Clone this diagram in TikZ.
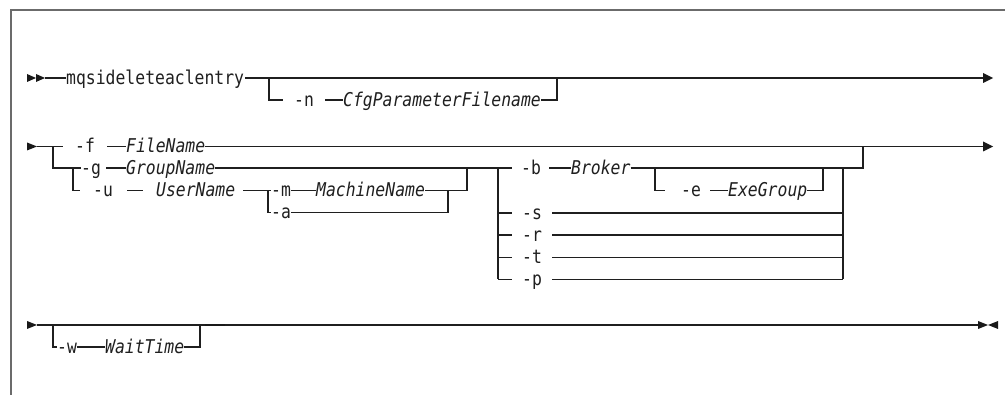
\documentclass[tikz,border=0pt]{standalone}
\usepackage{fontspec}
\newfontfamily\diafont[FakeStretch=0.864,ItalicFont={DejaVu Sans Mono Oblique}]{DejaVu Sans Mono}
\tikzset{
  kwtxt/.style={font=\diafont\fontsize{19}{19}\selectfont, inner xsep=0pt, inner ysep=0pt,
    text height=13pt, text depth=0pt, anchor=west, text=black!88},
  vartxt/.style={kwtxt, font=\diafont\itshape\fontsize{19}{19}\selectfont},
  rail/.style={draw=black!88, line width=1.1pt},
  framel/.style={draw=black!58, line width=1.8pt},
  tipfill/.style={fill=black!90},
}
\begin{document}
\begin{tikzpicture}[x=1pt,y=-1pt]
\useasboundingbox (0,0) rectangle (1005,395);
% frame
\draw[framel] (11,395) -- (11,10) -- (1006,10);

% ---------- row 1
\fill[tipfill] (27,74) -- (36,78) -- (27,82) -- cycle;
\fill[tipfill] (36,74) -- (45,78) -- (36,82) -- cycle;
\coordinate (r1s) at (45,78);
\coordinate (r1e) at (983,78);
\node[kwtxt] (cmd) at (66,78) {mqsideleteaclentry};
\draw[rail] (r1s) -- (cmd.west);
\draw[rail] (cmd.east) ++(1,0) -- (r1e);
\fill[tipfill] (983,73) -- (993,78) -- (983,83) -- cycle;
\coordinate (o1a) at (269,78);
\coordinate (o1b) at (557,78);
\node[kwtxt] (n) at (294,100) {-n};
\node[vartxt] (cfg) at (343,100) {CfgParameterFilename};
\draw[rail] (o1a) -- (o1a |- n.west) -- ++(14,0);
\draw[rail] (n.east) ++(11,0) -- (cfg.west);
\draw[rail] (cfg.east) -- (o1b |- cfg.east) -- (o1b);

% ---------- row 2
\fill[tipfill] (27,142.5) -- (37,146.5) -- (27,150.5) -- cycle;
\coordinate (r2s) at (37,146.5);
\coordinate (j1) at (53,146.5);
\coordinate (r2e) at (983,146.5);
\node[kwtxt] (f) at (75,146.5) {-f};
\node[vartxt] (fn) at (126,146.5) {FileName};
\draw[rail] (r2s) -- ++(26,0);
\draw[rail] (f.east) ++(12,0) -- (fn.west);
\draw[rail] (fn.east) -- (r2e);
\fill[tipfill] (983,141.5) -- (993,146.5) -- (983,151.5) -- cycle;

% -g
\node[kwtxt] (g) at (81,168) {-g};
\node[vartxt] (gn) at (126,168) {GroupName};
\draw[rail] (j1) -- (j1 |- g.west) -- (g.west);
\draw[rail] (g.east) ++(5,0) -- (gn.west);
\coordinate (j2) at (73,168);

% -u
\node[kwtxt] (u) at (93,190.5) {-u};
\node[vartxt] (un) at (156,190.5) {UserName};
\coordinate (j3) at (268,190.5);
\draw[rail] (j2) -- (j2 |- u.west) -- ++(7,0);
\draw[rail] (u.east) ++(14,0) -- ++(16,0);
\draw[rail] (un.east) ++(8,0) -- (j3);

% -m
\node[kwtxt] (m) at (271,190.5) {-m};
\node[vartxt] (mn) at (316,190.5) {MachineName};
\coordinate (k1) at (467,168);
\draw[rail] (j3) -- (m.west);
\draw[rail] (m.east) -- (mn.west);
\draw[rail] (mn.east) -- (k1 |- mn.east) -- (k1);

% -a
\node[kwtxt] (a) at (271,212.5) {-a};
\coordinate (k2) at (448,190.5);
\draw[rail] (j3) -- (j3 |- a.west) -- (a.west);
\draw[rail] (a.east) -- (k2 |- a.east) -- (k2);

% -b group
\coordinate (j4) at (498,168);
\coordinate (j5) at (655,168);
\coordinate (k3) at (823,168);
\coordinate (k4) at (843,168);
\coordinate (k5) at (863,168);
\node[kwtxt] (b) at (521,168) {-b};
\node[vartxt] (bn) at (571,168) {Broker};
\draw[rail] (gn.east) -- (j4) -- ++(14,0);
\draw[rail] (b.east) ++(8,0) -- (bn.west);
\draw[rail] (bn.east) -- (k5) -- (k5 |- fn.east);

% -e
\node[kwtxt] (e) at (681,190.5) {-e};
\node[vartxt] (en) at (728,190.5) {ExeGroup};
\draw[rail] (j5) -- (j5 |- e.west) -- ++(10,0);
\draw[rail] (e.east) ++(9,0) -- (en.west);
\draw[rail] (en.east) -- (k3 |- en.east) -- (k3);

% -s -r -t -p
\node[kwtxt] (s) at (522,213) {-s};
\node[kwtxt] (r) at (522,235) {-r};
\node[kwtxt] (t) at (522,257.5) {-t};
\node[kwtxt] (p) at (522,279.5) {-p};
\draw[rail] (j4) -- (j4 |- p.west);
\draw[rail] (k4) -- (k4 |- p.east);
\foreach \nm in {s,r,t,p}{
  \draw[rail] (j4 |- \nm.west) -- ++(14,0);
  \draw[rail] (\nm.east) ++(10,0) -- (k4 |- \nm.east);
}

% ---------- row 3
\fill[tipfill] (27,321) -- (37,325) -- (27,329) -- cycle;
\coordinate (r3s) at (37,325);
\coordinate (j6) at (53,325);
\coordinate (k6) at (200,325);
\coordinate (r3e) at (978,325);
\node[kwtxt] (w) at (57,347) {-w};
\node[vartxt] (wn) at (105,347) {WaitTime};
\draw[rail] (r3s) -- (r3e);
\draw[rail] (j6) -- (j6 |- w.west) -- (w.west);
\draw[rail] (w.east) -- (wn.west);
\draw[rail] (wn.east) -- (k6 |- wn.east) -- (k6);
\draw[draw=black!90, line width=2pt] (205,325) -- (225,325);
\fill[tipfill] (978,321) -- (988,325) -- (978,329) -- cycle;
\fill[tipfill] (998,321) -- (988,325) -- (998,329) -- cycle;
\end{tikzpicture}
\end{document}
